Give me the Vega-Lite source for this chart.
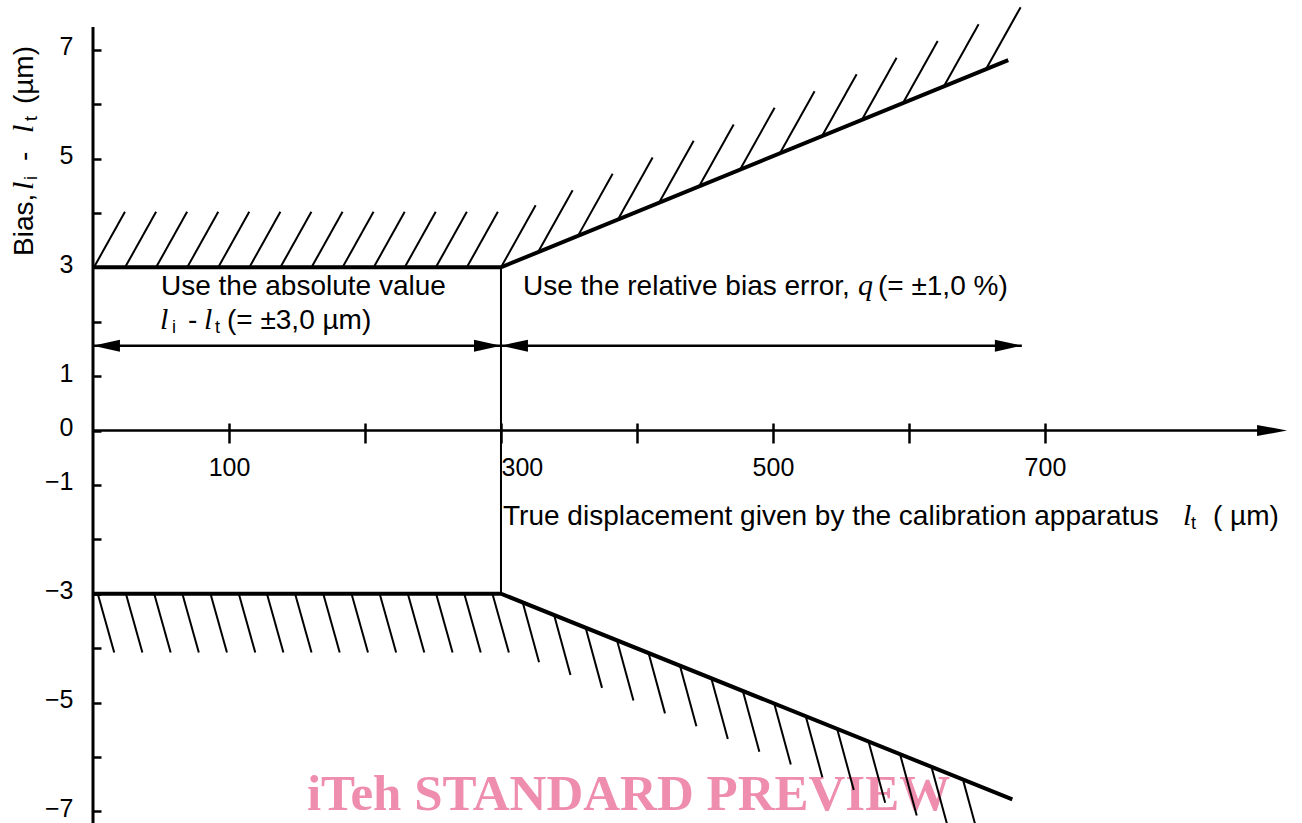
{
  "$schema": "https://vega.github.io/schema/vega-lite/v6.json",
  "width": 1209,
  "height": 823,
  "autosize": "none",
  "padding": {"left": 93, "top": 0, "right": 0, "bottom": 0},
  "background": "white",
  "config": {"view": {"stroke": null}},
  "datasets": {
    "wm": [{"x": 393.8, "y": -6.976, "text": "iTeh STANDARD PREVIEW"}],
    "hatch": [
      {"x": 0.7, "y": 3, "x2": 23.5, "y2": 4.02},
      {"x": 23.6, "y": 3, "x2": 46.4, "y2": 4.02},
      {"x": 46.4, "y": 3, "x2": 69.2, "y2": 4.02},
      {"x": 69.3, "y": 3, "x2": 92.1, "y2": 4.02},
      {"x": 92.1, "y": 3, "x2": 114.9, "y2": 4.02},
      {"x": 115.0, "y": 3, "x2": 137.8, "y2": 4.02},
      {"x": 137.8, "y": 3, "x2": 160.6, "y2": 4.02},
      {"x": 160.7, "y": 3, "x2": 183.5, "y2": 4.02},
      {"x": 183.5, "y": 3, "x2": 206.3, "y2": 4.02},
      {"x": 206.4, "y": 3, "x2": 229.2, "y2": 4.02},
      {"x": 229.2, "y": 3, "x2": 252.0, "y2": 4.02},
      {"x": 252.1, "y": 3, "x2": 274.9, "y2": 4.02},
      {"x": 274.9, "y": 3, "x2": 297.7, "y2": 4.02},
      {"x": 300.0, "y": 3.0, "x2": 325.5, "y2": 4.14},
      {"x": 327.2, "y": 3.278, "x2": 352.7, "y2": 4.418},
      {"x": 356.6, "y": 3.578, "x2": 382.1, "y2": 4.718},
      {"x": 386.0, "y": 3.878, "x2": 411.5, "y2": 5.018},
      {"x": 416.2, "y": 4.187, "x2": 441.7, "y2": 5.327},
      {"x": 445.6, "y": 4.487, "x2": 471.1, "y2": 5.627},
      {"x": 475.7, "y": 4.794, "x2": 501.2, "y2": 5.934},
      {"x": 505.1, "y": 5.095, "x2": 530.6, "y2": 6.235},
      {"x": 536.0, "y": 5.411, "x2": 561.5, "y2": 6.551},
      {"x": 565.4, "y": 5.711, "x2": 590.9, "y2": 6.851},
      {"x": 595.6, "y": 6.019, "x2": 621.1, "y2": 7.159},
      {"x": 625.7, "y": 6.327, "x2": 651.2, "y2": 7.467},
      {"x": 656.6, "y": 6.642, "x2": 682.1, "y2": 7.782},
      {"x": 3.5, "y": -3, "x2": 15.6, "y2": -4.08},
      {"x": 24.2, "y": -3, "x2": 36.3, "y2": -4.08},
      {"x": 45.0, "y": -3, "x2": 57.1, "y2": -4.08},
      {"x": 65.7, "y": -3, "x2": 77.8, "y2": -4.08},
      {"x": 86.4, "y": -3, "x2": 98.5, "y2": -4.08},
      {"x": 107.2, "y": -3, "x2": 119.3, "y2": -4.08},
      {"x": 127.9, "y": -3, "x2": 140.0, "y2": -4.08},
      {"x": 148.6, "y": -3, "x2": 160.7, "y2": -4.08},
      {"x": 169.3, "y": -3, "x2": 181.4, "y2": -4.08},
      {"x": 190.1, "y": -3, "x2": 202.2, "y2": -4.08},
      {"x": 210.8, "y": -3, "x2": 222.9, "y2": -4.08},
      {"x": 231.5, "y": -3, "x2": 243.6, "y2": -4.08},
      {"x": 252.3, "y": -3, "x2": 264.4, "y2": -4.08},
      {"x": 273.0, "y": -3, "x2": 285.1, "y2": -4.08},
      {"x": 293.7, "y": -3, "x2": 305.8, "y2": -4.08},
      {"x": 316.0, "y": -3.162, "x2": 328.0, "y2": -4.262},
      {"x": 339.1, "y": -3.396, "x2": 351.1, "y2": -4.496},
      {"x": 362.3, "y": -3.631, "x2": 374.3, "y2": -4.731},
      {"x": 385.4, "y": -3.865, "x2": 397.4, "y2": -4.965},
      {"x": 408.6, "y": -4.100, "x2": 420.6, "y2": -5.200},
      {"x": 431.7, "y": -4.335, "x2": 443.7, "y2": -5.435},
      {"x": 454.8, "y": -4.569, "x2": 466.8, "y2": -5.669},
      {"x": 478.0, "y": -4.804, "x2": 490.0, "y2": -5.904},
      {"x": 501.1, "y": -5.038, "x2": 513.1, "y2": -6.138},
      {"x": 524.3, "y": -5.273, "x2": 536.3, "y2": -6.373},
      {"x": 547.4, "y": -5.507, "x2": 559.4, "y2": -6.607},
      {"x": 570.5, "y": -5.741, "x2": 582.5, "y2": -6.841},
      {"x": 593.7, "y": -5.976, "x2": 605.7, "y2": -7.076},
      {"x": 616.8, "y": -6.210, "x2": 628.8, "y2": -7.310},
      {"x": 640.0, "y": -6.445, "x2": 652.0, "y2": -7.545}
    ],
    "bound": [
      {"x": 0, "y": 3, "side": "upper"},
      {"x": 300, "y": 3, "side": "upper"},
      {"x": 673, "y": 6.81, "side": "upper"},
      {"x": 0, "y": -3, "side": "lower"},
      {"x": 300, "y": -3, "side": "lower"},
      {"x": 676, "y": -6.78, "side": "lower"}
    ],
    "vline": [{"x": 300, "y": -3, "y2": 3}],
    "hlines": [
      {"x": 0, "x2": 300, "y": 1.559},
      {"x": 300, "x2": 683, "y": 1.559},
      {"x": 0, "x2": 868, "y": 0}
    ],
    "yline": [{"x": 0, "y": -7.215, "y2": 7.417}],
    "heads": [
      {"x": 9.9, "y": 1.559, "dir": "left"},
      {"x": 290.1, "y": 1.559, "dir": "right"},
      {"x": 309.9, "y": 1.559, "dir": "left"},
      {"x": 673.1, "y": 1.559, "dir": "right"}
    ],
    "axhead": [{"x": 867, "y": 0, "dir": "right"}],
    "t_sans": [
      {"x": 50.0, "y": 2.491, "text": "Use the absolute value"},
      {"x": 69.9, "y": 1.866, "text": "-"},
      {"x": 98.5, "y": 1.866, "text": "(= ±3,0 µm)"},
      {"x": 316.2, "y": 2.491, "text": "Use the relative bias error,"},
      {"x": 577.2, "y": 2.491, "text": "(= ±1,0 %)"},
      {"x": 301.5, "y": -1.737, "text": "True displacement given by the calibration apparatus"},
      {"x": 823.5, "y": -1.737, "text": "( µm)"}
    ],
    "t_ital": [
      {"x": 49.3, "y": 1.866, "text": "l"},
      {"x": 81.6, "y": 1.866, "text": "l"},
      {"x": 562.5, "y": 2.491, "text": "q"},
      {"x": 801.5, "y": -1.737, "text": "l"}
    ],
    "t_sub": [
      {"x": 58.1, "y": 1.792, "text": "i"},
      {"x": 89.7, "y": 1.792, "text": "t"},
      {"x": 807.4, "y": -1.811, "text": "t"}
    ],
    "ty_sans": [
      {"x": -44.1, "y": 3.208, "text": "Bias,"},
      {"x": -44.1, "y": 4.954, "text": "-"},
      {"x": -44.1, "y": 6.0, "text": "(µm)"}
    ],
    "ty_ital": [
      {"x": -44.1, "y": 4.421, "text": "l"},
      {"x": -44.1, "y": 5.469, "text": "l"}
    ],
    "ty_sub": [
      {"x": -41.2, "y": 4.605, "text": "i"},
      {"x": -41.2, "y": 5.689, "text": "t"}
    ]
  },
  "encoding": {
    "x": {
      "field": "x", "type": "quantitative",
      "scale": {"domain": [0, 889], "nice": false, "zero": false},
      "axis": {
        "title": null, "orient": "bottom", "offset": -400, "domain": false, "grid": false,
        "values": [100, 200, 300, 400, 500, 600, 700],
        "tickSize": 20, "tickWidth": 2.5, "tickColor": "#000",
        "labelFont": "Liberation Sans", "labelFontSize": 25, "labelColor": "#000",
        "labelPadding": 12, "labelFlush": false, "labelOverlap": false,
        "labelAlign": {"condition": {"test": "datum.value == 300", "value": "left"}, "value": "center"},
        "labelExpr": "datum.value % 200 == 100 ? datum.label : ''"
      }
    },
    "y": {
      "field": "y", "type": "quantitative",
      "scale": {"domain": [-7.215, 7.914], "nice": false, "zero": false},
      "axis": {
        "title": null, "orient": "left", "offset": -8, "domain": false, "grid": false,
        "values": [-7, -6, -5, -4, -3, -2, -1, 0, 1, 2, 3, 4, 5, 6, 7],
        "tickSize": 8, "tickWidth": 2.5, "tickColor": "#000",
        "labelFont": "Liberation Sans", "labelFontSize": 25, "labelColor": "#000",
        "labelPadding": 20, "labelAlign": "right", "labelBaseline": "middle", "labelOverlap": false,
        "labelOffset": -3,
        "labelExpr": "datum.value == 0 ? '0' : (abs(datum.value) % 2 == 1 ? (datum.value < 0 ? '−' + abs(datum.value) : '' + datum.value) : '')"
      }
    }
  },
  "layer": [
    {
      "data": {"name": "wm"},
      "mark": {"type": "text", "font": "Liberation Serif", "fontWeight": "bold", "fontSize": 51, "color": "#EF8DAE", "align": "center", "baseline": "alphabetic"},
      "encoding": {"text": {"field": "text"}}
    },
    {
      "data": {"name": "hatch"},
      "mark": {"type": "rule", "color": "#000", "strokeWidth": 2, "clip": true},
      "encoding": {"x2": {"field": "x2"}, "y2": {"field": "y2"}}
    },
    {
      "data": {"name": "bound"},
      "mark": {"type": "line", "color": "#000", "strokeWidth": 4, "strokeJoin": "miter"},
      "encoding": {"detail": {"field": "side"}, "order": {"field": "x"}}
    },
    {
      "data": {"name": "vline"},
      "mark": {"type": "rule", "color": "#000", "strokeWidth": 2},
      "encoding": {"y2": {"field": "y2"}}
    },
    {
      "data": {"name": "hlines"},
      "mark": {"type": "rule", "color": "#000", "strokeWidth": 2.5},
      "encoding": {"x2": {"field": "x2"}}
    },
    {
      "data": {"name": "yline"},
      "mark": {"type": "rule", "color": "#000", "strokeWidth": 3},
      "encoding": {"y2": {"field": "y2"}}
    },
    {
      "data": {"name": "heads"},
      "mark": {"type": "point", "filled": true, "color": "#000", "opacity": 1, "size": 729},
      "encoding": {
        "shape": {"field": "dir", "type": "nominal", "legend": null,
          "scale": {"domain": ["left", "right"], "range": ["M-1,0L1,-0.45L1,0.45Z", "M1,0L-1,-0.45L-1,0.45Z"]}}
      }
    },
    {
      "data": {"name": "axhead"},
      "mark": {"type": "point", "filled": true, "color": "#000", "opacity": 1, "size": 900, "shape": "M1,0L-1,-0.37L-1,0.37Z"},
      "encoding": {}
    },
    {
      "data": {"name": "t_sans"},
      "mark": {"type": "text", "font": "Liberation Sans", "fontSize": 28, "color": "#000", "align": "left", "baseline": "alphabetic"},
      "encoding": {"text": {"field": "text"}}
    },
    {
      "data": {"name": "t_ital"},
      "mark": {"type": "text", "font": "Liberation Serif", "fontStyle": "italic", "fontSize": 30, "color": "#000", "align": "left", "baseline": "alphabetic"},
      "encoding": {"text": {"field": "text"}}
    },
    {
      "data": {"name": "t_sub"},
      "mark": {"type": "text", "font": "Liberation Sans", "fontSize": 18, "color": "#000", "align": "left", "baseline": "alphabetic"},
      "encoding": {"text": {"field": "text"}}
    },
    {
      "data": {"name": "ty_sans"},
      "mark": {"type": "text", "font": "Liberation Sans", "fontSize": 28, "color": "#000", "align": "left", "baseline": "alphabetic", "angle": 270},
      "encoding": {"text": {"field": "text"}}
    },
    {
      "data": {"name": "ty_ital"},
      "mark": {"type": "text", "font": "Liberation Serif", "fontStyle": "italic", "fontSize": 30, "color": "#000", "align": "left", "baseline": "alphabetic", "angle": 270},
      "encoding": {"text": {"field": "text"}}
    },
    {
      "data": {"name": "ty_sub"},
      "mark": {"type": "text", "font": "Liberation Sans", "fontSize": 18, "color": "#000", "align": "left", "baseline": "alphabetic", "angle": 270},
      "encoding": {"text": {"field": "text"}}
    }
  ]
}
